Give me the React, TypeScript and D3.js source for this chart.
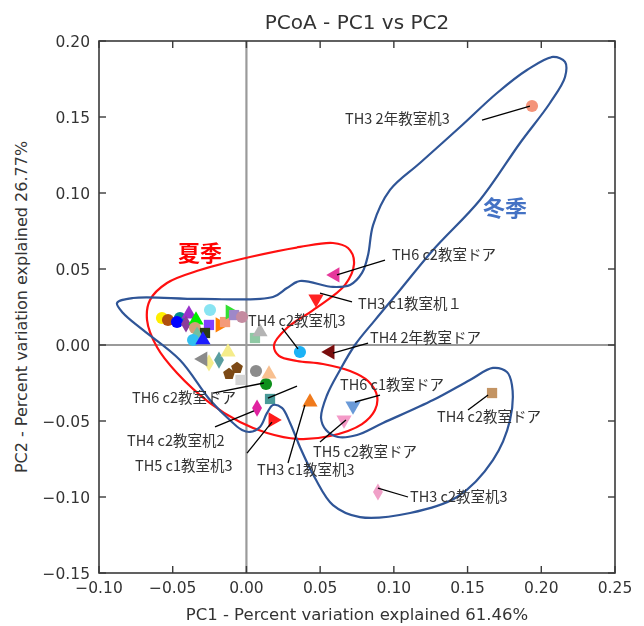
import React from 'react';
import * as d3 from 'd3';

const xTickValues = [-0.1, -0.05, 0, 0.05, 0.1, 0.15, 0.2, 0.25];
const yTickValues = [-0.15, -0.1, -0.05, 0, 0.05, 0.1, 0.15, 0.2];

// PCoA sample coordinates
const pc1 = [
  0.1937, 0.0601, 0.0472, 0.0363, 0.0567, 0.0723, 0.0662, 0.1666, 0.0892, 0.0431,
  0.018, 0.0072, 0.0133, 0.016,
  0.0065, 0.0153, -0.0118, -0.0064, -0.0186, -0.0254, -0.0125, -0.0295, 0.0058, 0.0092, -0.004,
  -0.0573, -0.0532, -0.0451, -0.0471, -0.039, -0.041, -0.0342, -0.0247, -0.0254, -0.0349,
  -0.0281, -0.0335, -0.0362, -0.0295, -0.0179, -0.0145, -0.0111, -0.0084, -0.003,
];
const pc2 = [
  0.1572, 0.0461, 0.0303, -0.0046, -0.0046, -0.0401, -0.0493, -0.0316, -0.0967, -0.0375,
  -0.0493, -0.0415, -0.0257, -0.0355,
  -0.0171, -0.0191, -0.0191, -0.0151, -0.0099, -0.0118, -0.0046, -0.0092, 0.0046, 0.0086, -0.023,
  0.0178, 0.0164, 0.0178, 0.0151, 0.0204, 0.0138, 0.0164, 0.023, 0.0132, 0.0112,
  0.0079, 0.0066, 0.0033, 0.0033, 0.0132, 0.0151, 0.0217, 0.0197, 0.0184,
];
const markerShape = [
  'circle', 'left', 'down', 'circle', 'left', 'down', 'down', 'square', 'diamond', 'up',
  'right', 'diamond', 'circle', 'square',
  'circle', 'up', 'pentagon', 'pentagon', 'diamond', 'diamond', 'up', 'left', 'square', 'up', 'square',
  'circle', 'circle', 'circle', 'circle', 'up', 'diamond', 'up', 'circle', 'square', 'circle',
  'square', 'diamond', 'circle', 'up', 'right', 'square', 'right', 'square', 'circle',
];
const markerColor = [
  '#f4947a', '#e6399b', '#ff2020', '#1ab2f5', '#7a0a0a', '#6a9ad8', '#f49ac8', '#c39463', '#f0a0c8', '#f07a1a',
  '#ff1a1a', '#e020a0', '#10901a', '#4a9a98',
  '#8c8c8c', '#f8c090', '#7b4a12', '#7b4a12', '#5a9ea0', '#f5ec8a', '#f5ec8a', '#8a8a8a', '#8fc9a4', '#b4b4b4', '#d4d4d4',
  '#ffee00', '#b0500f', '#008b8b', '#0000ff', '#9932cc', '#8b3a9a', '#00ee00', '#88e4f2', '#7f3fff', '#d2a07a',
  '#2b3a12', '#70c0a0', '#33c0f0', '#1f1fff', '#ff7f00', '#f49a7a', '#30e030', '#9e88c8', '#c48ba0',
];

// Annotations: [text, textPC1, textPC2, leaderFromPC1, leaderFromPC2, leaderToPC1, leaderToPC2]
const annotations: [string, number, number, number, number, number, number][] = [
  ['TH3 2年教室机3', 0.0669, 0.1487, 0.1598, 0.148, 0.1923, 0.1572],
  ['TH6 c2教室ドア', 0.0987, 0.0592, 0.094, 0.0559, 0.0614, 0.0461],
  ['TH3 c1教室机１', 0.0757, 0.027, 0.0716, 0.0283, 0.0499, 0.0342],
  ['TH4 c2教室机3', 0.0011, 0.0158, 0.0241, 0.0112, 0.035, -0.0026],
  ['TH4 2年教室ドア', 0.0838, 0.0046, 0.0825, 0.0013, 0.0587, -0.0053],
  ['TH6 c1教室ドア', 0.0635, -0.0263, 0.0906, -0.0329, 0.0736, -0.0375],
  ['TH5 c2教室ドア', 0.0452, -0.0704, 0.0499, -0.0638, 0.0675, -0.0493],
  ['TH4 c2教室ドア', 0.1293, -0.0474, 0.1503, -0.0428, 0.1639, -0.0329],
  ['TH3 c2教室机3', 0.111, -0.1, 0.0892, -0.0941, 0.1096, -0.1],
  ['TH3 c1教室机3', 0.0072, -0.0822, 0.0282, -0.0776, 0.0397, -0.0395],
  ['TH5 c1教室机3', -0.0756, -0.0796, 0.0004, -0.0711, 0.0173, -0.0507],
  ['TH4 c2教室机2', -0.081, -0.0632, -0.0213, -0.0539, 0.0051, -0.0434],
  ['TH6 c2教室ドア', -0.0776, -0.0349, -0.0227, -0.0316, 0.0119, -0.025],
  ['', 0, 0, 0.0343, -0.027, 0.0146, -0.0349],
];

// Hand-drawn group outlines (PC1, PC2)
const summerOutline: [number, number][] = [
  [-0.0654, 0.0296], [-0.0539, 0.0408], [-0.0315, 0.0493], [0.0024, 0.0579], [0.0363, 0.0645],
  [0.0587, 0.0671], [0.0689, 0.0638], [0.073, 0.0546], [0.0669, 0.0395], [0.0452, 0.023],
  [0.0275, 0.0112], [0.0187, 0.0], [0.0221, -0.0072], [0.0343, -0.0105], [0.0519, -0.0125],
  [0.0703, -0.0171], [0.0825, -0.0237], [0.0886, -0.0336], [0.0872, -0.0428], [0.0784, -0.052],
  [0.0567, -0.0599], [0.0343, -0.0618], [0.014, -0.0579], [-0.0044, -0.0507], [-0.0247, -0.0382],
  [-0.0471, -0.0184], [-0.0607, -0.0013], [-0.0674, 0.0164],
];
const winterOutline: [number, number][] = [
  [0.0621, -0.0605], [0.075, -0.0592], [0.0926, -0.0513], [0.1266, -0.0362], [0.1516, -0.023],
  [0.1672, -0.0151], [0.1767, -0.0178], [0.1801, -0.0263], [0.1788, -0.0493], [0.1672, -0.0757],
  [0.1428, -0.1], [0.111, -0.1105], [0.077, -0.1132], [0.0587, -0.1053], [0.0465, -0.0875],
  [0.0363, -0.0671], [0.0296, -0.0513], [0.0241, -0.0414], [0.018, -0.0395], [0.014, -0.0447],
  [0.0092, -0.0539], [0.0024, -0.0572], [-0.003, -0.0559], [-0.0091, -0.0513], [-0.0247, -0.0362],
  [-0.0451, -0.0099], [-0.0702, 0.0099], [-0.0837, 0.0211], [-0.0878, 0.0276], [-0.0769, 0.0309],
  [-0.0315, 0.0303], [0.018, 0.0316], [0.0275, 0.0375], [0.0363, 0.0421], [0.0587, 0.0382],
  [0.0703, 0.0395], [0.0784, 0.0474], [0.0825, 0.0592], [0.0859, 0.0789], [0.0974, 0.102],
  [0.1177, 0.1197], [0.1449, 0.1434], [0.17, 0.1658], [0.1903, 0.1809], [0.2079, 0.1895],
  [0.2161, 0.1862], [0.2161, 0.1763], [0.2059, 0.1592], [0.1856, 0.1329], [0.1584, 0.0954],
  [0.1266, 0.0625], [0.1042, 0.0362], [0.0872, 0.0164], [0.0736, 0.0], [0.0635, -0.0164],
  [0.0547, -0.0329], [0.0506, -0.048], [0.054, -0.0559],
];
const summerLabel: [string, number, number] = ['夏季', -0.0315, 0.0605];
const winterLabel: [string, number, number] = ['冬季', 0.1754, 0.0901];

const W = 644;
const H = 626;
const left = 99, right = 615, top = 41, bottom = 573;

const x = d3.scaleLinear().domain([-0.1, 0.25]).range([left, right]);
const y = d3.scaleLinear().domain([-0.15, 0.2]).range([bottom, top]);
const fmt = d3.format('.2f');

function markerPath(shape: string): { d: string; rot: number } {
  const sym = d3.symbol();
  switch (shape) {
    case 'circle': return { d: sym.type(d3.symbolCircle).size(115)() as string, rot: 0 };
    case 'square': return { d: sym.type(d3.symbolSquare).size(105)() as string, rot: 0 };
    case 'diamond': return { d: sym.type(d3.symbolDiamond).size(85)() as string, rot: 0 };
    case 'up': return { d: sym.type(d3.symbolTriangle).size(100)() as string, rot: 0 };
    case 'down': return { d: sym.type(d3.symbolTriangle).size(100)() as string, rot: 180 };
    case 'left': return { d: sym.type(d3.symbolTriangle).size(100)() as string, rot: -90 };
    case 'right': return { d: sym.type(d3.symbolTriangle).size(100)() as string, rot: 90 };
    case 'pentagon': {
      const pts = d3.range(5).map((i) => {
        const a = -Math.PI / 2 + (i * 2 * Math.PI) / 5;
        return [6.2 * Math.cos(a), 6.2 * Math.sin(a)] as [number, number];
      });
      return { d: 'M' + pts.map((p) => p.join(',')).join('L') + 'Z', rot: 0 };
    }
    default: return { d: sym.type(d3.symbolCircle).size(115)() as string, rot: 0 };
  }
}

const outlineLine = d3
  .line<[number, number]>()
  .x((d) => x(d[0]))
  .y((d) => y(d[1]))
  .curve(d3.curveCatmullRomClosed.alpha(0.5));

export default function App() {
  const tickColor = '#3a3a3a';
  const tickLen = 7;
  const labelFont = '"Noto Sans CJK JP", "Noto Sans", sans-serif';
  const axisFont = '"DejaVu Sans", sans-serif';
  return (
    <svg
      width={W}
      height={H}
      viewBox={`0 0 ${W} ${H}`}
      style={{ position: 'absolute', left: 0, top: 0, background: '#fff' }}
    >
      <defs>
        <filter id="soft" x="-20%" y="-20%" width="140%" height="140%">
          <feGaussianBlur stdDeviation="0.6" />
        </filter>
        <clipPath id="plotClip">
          <rect x={left} y={top} width={right - left} height={bottom - top} />
        </clipPath>
      </defs>
      <rect x={0} y={0} width={W} height={H} fill="#fff" />

      {/* zero lines */}
      <line x1={x(0)} x2={x(0)} y1={top} y2={bottom} stroke="#9a9a9a" strokeWidth={2.2} />
      <line x1={left} x2={right} y1={y(0)} y2={y(0)} stroke="#9a9a9a" strokeWidth={2.2} />

      {/* markers */}
      <g filter="url(#soft)" clipPath="url(#plotClip)">
        {pc1.map((v, i) => {
          const m = markerPath(markerShape[i]);
          return (
            <path
              key={i}
              d={m.d}
              transform={`translate(${x(v)},${y(pc2[i])}) rotate(${m.rot})`}
              fill={markerColor[i]}
              stroke="none"
            />
          );
        })}
      </g>

      {/* outlines */}
      <path d={outlineLine(summerOutline) as string} fill="none" stroke="#ff1010" strokeWidth={2.2} />
      <path d={outlineLine(winterOutline) as string} fill="none" stroke="#2f5597" strokeWidth={2.2} />

      {/* annotations */}
      {annotations.map((a, i) => (
        <g key={i}>
          <line x1={x(a[3])} y1={y(a[4])} x2={x(a[5])} y2={y(a[6])} stroke="#000" strokeWidth={1.3} />
          {a[0] && (
            <text
              x={x(a[1])}
              y={y(a[2])}
              dy="0.36em"
              fontFamily={labelFont}
              fontSize={14.5}
              fill="#333"
            >
              {a[0]}
            </text>
          )}
        </g>
      ))}

      <text
        x={x(summerLabel[1])}
        y={y(summerLabel[2])}
        dy="0.36em"
        textAnchor="middle"
        fontFamily={labelFont}
        fontWeight="bold"
        fontSize={22}
        fill="#ff0000"
      >
        {summerLabel[0]}
      </text>
      <text
        x={x(winterLabel[1])}
        y={y(winterLabel[2])}
        dy="0.36em"
        textAnchor="middle"
        fontFamily={labelFont}
        fontWeight="bold"
        fontSize={22}
        fill="#4472c4"
      >
        {winterLabel[0]}
      </text>

      {/* frame */}
      <rect
        x={left}
        y={top}
        width={right - left}
        height={bottom - top}
        fill="none"
        stroke="#3a3a3a"
        strokeWidth={1.6}
      />

      {/* ticks */}
      {xTickValues.map((t) => (
        <g key={'xt' + t}>
          <line x1={x(t)} x2={x(t)} y1={bottom} y2={bottom - tickLen} stroke={tickColor} strokeWidth={1.4} />
          <line x1={x(t)} x2={x(t)} y1={top} y2={top + tickLen} stroke={tickColor} strokeWidth={1.4} />
          <text
            x={x(t)}
            y={bottom + 20}
            textAnchor="middle"
            fontFamily={axisFont}
            fontSize={15.5}
            fill="#333"
          >
            {fmt(t)}
          </text>
        </g>
      ))}
      {yTickValues.map((t) => (
        <g key={'yt' + t}>
          <line x1={left} x2={left + tickLen} y1={y(t)} y2={y(t)} stroke={tickColor} strokeWidth={1.4} />
          <line x1={right} x2={right - tickLen} y1={y(t)} y2={y(t)} stroke={tickColor} strokeWidth={1.4} />
          <text
            x={left - 9}
            y={y(t)}
            dy="0.36em"
            textAnchor="end"
            fontFamily={axisFont}
            fontSize={15.5}
            fill="#333"
          >
            {fmt(t)}
          </text>
        </g>
      ))}

      {/* titles */}
      <text x={(left + right) / 2} y={29} textAnchor="middle" fontFamily={axisFont} fontSize={20} fill="#333">
        PCoA - PC1 vs PC2
      </text>
      <text x={(left + right) / 2} y={620} textAnchor="middle" fontFamily={axisFont} fontSize={16.5} fill="#333">
        PC1 - Percent variation explained 61.46%
      </text>
      <text
        transform={`translate(27,${(top + bottom) / 2}) rotate(-90)`}
        textAnchor="middle"
        fontFamily={axisFont}
        fontSize={16}
        fill="#333"
      >
        PC2 - Percent variation explained 26.77%
      </text>
    </svg>
  );
}
